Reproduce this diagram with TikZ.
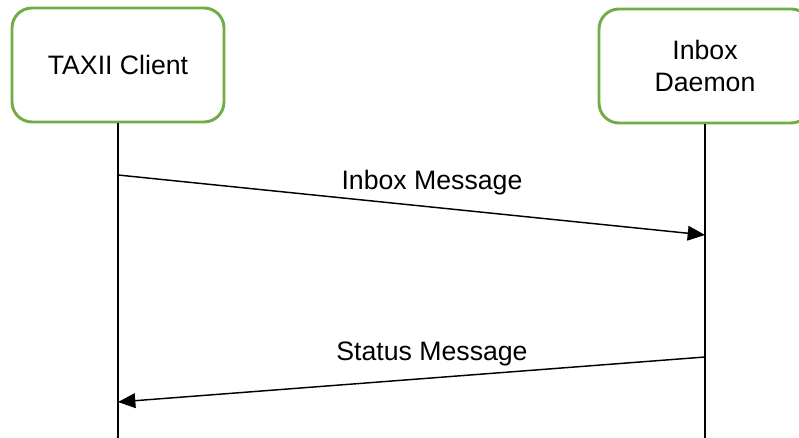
\documentclass[tikz,border=0pt]{standalone}
\usepackage{fontspec}
\setmainfont{Liberation Sans}
\usetikzlibrary{arrows.meta}
\definecolor{boxgreen}{HTML}{70AD47}
\begin{document}
\begin{tikzpicture}[x=0.75pt,y=-0.75pt,
  actor/.style={draw=boxgreen, line width=2.2pt, rounded corners=15pt, fill=white,
    minimum width=212*0.75pt, minimum height=114*0.75pt, align=center,
    font=\fontsize{20pt}{24.5pt}\selectfont},
  life/.style={draw=black, line width=1.1pt},
  msg/.style={draw=black, line width=1.1pt, -{Triangle[length=13pt,width=11pt]}},
  lbl/.style={font=\fontsize{20pt}{24.5pt}\selectfont}]
\useasboundingbox (0,0) rectangle (799,438);
\begin{scope}
\clip (0,0) rectangle (799,438);
\node[actor] (client) at (118,65) {TAXII Client};
\node[actor] (daemon) at (705,66) {Inbox\\Daemon};
\coordinate (cend) at (118,438);
\coordinate (dend) at (705,438);
\draw[life] (client.south) -- (cend);
\draw[life] (daemon.south) -- (dend);
\coordinate (m1s) at (118,175);
\coordinate (m1e) at (705,235);
\coordinate (m2s) at (705,357);
\coordinate (m2e) at (118,402);
\draw[msg] (m1s) -- (m1e);
\draw[msg] (m2s) -- (m2e);
\node[lbl] (l1) at (432,183) {Inbox Message};
\node[lbl] (l2) at (432,354) {Status Message};
\end{scope}
\end{tikzpicture}
\end{document}
